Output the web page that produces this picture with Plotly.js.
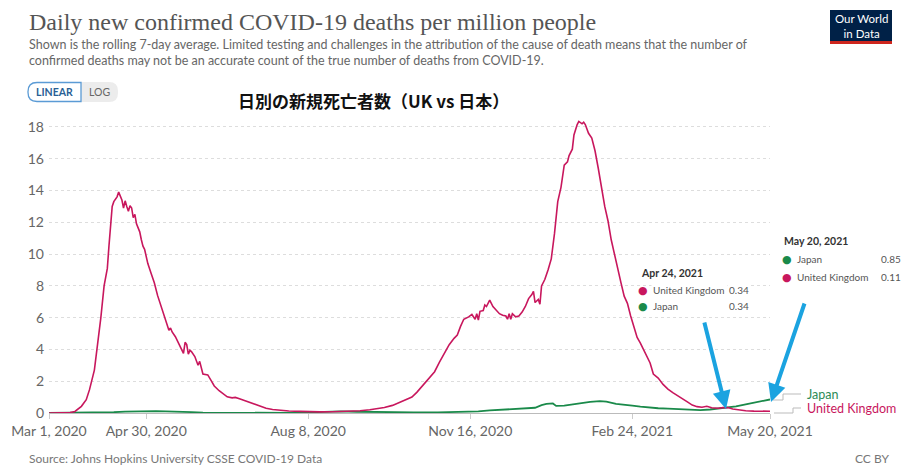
<!DOCTYPE html>
<html><head><meta charset="utf-8">
<script src="https://cdn.plot.ly/plotly-3.0.1.min.js"></script>
<style>html,body{margin:0;padding:0;background:#fff}#chart{width:910px;height:467px}</style>
</head><body><div id="chart"></div>
<script>
// ---- data (7-day rolling average, deaths per million) ----
const ukDates = ["2020-03-01","2020-03-11","2020-03-14","2020-03-17","2020-03-19","2020-03-21","2020-03-24","2020-03-26","2020-03-29","2020-03-31","2020-04-02","2020-04-04","2020-04-05","2020-04-06","2020-04-07","2020-04-08","2020-04-09","2020-04-10","2020-04-12","2020-04-13","2020-04-14","2020-04-15","2020-04-16","2020-04-17","2020-04-18","2020-04-19","2020-04-20","2020-04-21","2020-04-22","2020-04-23","2020-04-24","2020-04-25","2020-04-26","2020-04-27","2020-04-28","2020-04-29","2020-05-01","2020-05-03","2020-05-05","2020-05-07","2020-05-09","2020-05-11","2020-05-13","2020-05-14","2020-05-15","2020-05-16","2020-05-18","2020-05-20","2020-05-22","2020-05-23","2020-05-24","2020-05-25","2020-05-26","2020-05-27","2020-05-28","2020-05-30","2020-06-01","2020-06-02","2020-06-04","2020-06-07","2020-06-09","2020-06-11","2020-06-14","2020-06-17","2020-06-19","2020-06-22","2020-06-24","2020-06-27","2020-07-01","2020-07-05","2020-07-09","2020-07-13","2020-07-17","2020-07-22","2020-07-27","2020-08-03","2020-08-08","2020-08-15","2020-08-23","2020-09-01","2020-09-09","2020-09-15","2020-09-20","2020-09-24","2020-09-29","2020-10-03","2020-10-07","2020-10-11","2020-10-14","2020-10-17","2020-10-19","2020-10-22","2020-10-25","2020-10-28","2020-10-31","2020-11-03","2020-11-06","2020-11-08","2020-11-10","2020-11-12","2020-11-15","2020-11-17","2020-11-19","2020-11-20","2020-11-21","2020-11-22","2020-11-24","2020-11-25","2020-11-26","2020-11-28","2020-11-30","2020-12-02","2020-12-04","2020-12-06","2020-12-08","2020-12-09","2020-12-10","2020-12-11","2020-12-12","2020-12-14","2020-12-16","2020-12-18","2020-12-20","2020-12-22","2020-12-24","2020-12-25","2020-12-26","2020-12-28","2020-12-29","2020-12-30","2021-01-01","2021-01-03","2021-01-05","2021-01-07","2021-01-09","2021-01-11","2021-01-13","2021-01-15","2021-01-16","2021-01-18","2021-01-19","2021-01-21","2021-01-22","2021-01-24","2021-01-25","2021-01-26","2021-01-28","2021-01-30","2021-02-01","2021-02-03","2021-02-05","2021-02-07","2021-02-09","2021-02-11","2021-02-13","2021-02-15","2021-02-17","2021-02-19","2021-02-21","2021-02-23","2021-02-25","2021-02-27","2021-03-01","2021-03-03","2021-03-05","2021-03-07","2021-03-09","2021-03-12","2021-03-15","2021-03-18","2021-03-21","2021-03-24","2021-03-27","2021-03-30","2021-04-02","2021-04-05","2021-04-08","2021-04-11","2021-04-14","2021-04-18","2021-04-21","2021-04-24","2021-04-27","2021-05-01","2021-05-05","2021-05-10","2021-05-15","2021-05-20"];
const ukValues = [0,0,0.03,0.1,0.25,0.42,0.84,1.47,2.7,4.2,6.0,8.0,8.7,9.1,10.5,12.0,13.0,13.3,13.6,13.9,13.6,13.4,12.9,13.35,13.0,12.7,13.05,12.9,12.3,12.5,11.9,11.7,11.4,10.9,10.5,10.3,9.4,8.8,8.2,7.4,6.8,6.2,5.6,5.2,5.35,5.1,4.8,4.4,4.0,3.75,4.45,4.3,3.7,3.95,3.85,3.55,3.0,3.25,2.45,2.4,2.05,1.7,1.4,1.15,1.02,0.95,0.98,0.88,0.73,0.55,0.4,0.3,0.22,0.17,0.13,0.1,0.08,0.07,0.08,0.1,0.14,0.2,0.28,0.35,0.48,0.65,0.78,1.0,1.3,1.65,1.9,2.3,2.6,3.2,3.75,4.3,4.7,4.9,5.45,5.9,6.05,6.2,5.9,6.25,5.85,6.4,6.45,6.8,6.7,7.1,6.7,6.5,6.25,6.15,6.1,5.9,6.25,5.9,6.25,6.05,6.1,6.35,6.7,7.2,7.45,7.65,6.95,7.15,6.85,8.0,8.4,9.0,9.7,11.3,13.3,14.2,15.6,15.8,16.2,16.6,17.5,18.15,18.35,18.2,18.3,18.15,17.6,17.3,16.5,15.4,14.2,13.0,12.1,10.9,10.0,9.0,8.2,7.35,6.9,6.1,5.45,4.75,4.4,4.0,3.6,3.15,2.45,2.2,1.8,1.5,1.28,1.1,0.9,0.7,0.5,0.4,0.36,0.42,0.33,0.3,0.34,0.34,0.25,0.18,0.14,0.12,0.12,0.11];

const jpDates = ["2020-03-01","2020-03-21","2020-04-01","2020-04-10","2020-04-17","2020-04-25","2020-05-03","2020-05-06","2020-05-12","2020-05-20","2020-05-28","2020-06-04","2020-06-19","2020-07-09","2020-07-29","2020-08-08","2020-08-18","2020-08-28","2020-09-07","2020-09-17","2020-09-27","2020-10-12","2020-10-27","2020-11-11","2020-11-21","2020-11-28","2020-12-06","2020-12-16","2020-12-26","2020-12-30","2021-01-02","2021-01-06","2021-01-08","2021-01-13","2021-01-18","2021-01-24","2021-01-29","2021-02-04","2021-02-08","2021-02-14","2021-02-19","2021-02-24","2021-03-01","2021-03-06","2021-03-12","2021-03-18","2021-03-26","2021-04-01","2021-04-07","2021-04-13","2021-04-19","2021-04-24","2021-04-29","2021-05-05","2021-05-10","2021-05-15","2021-05-18","2021-05-20"];
const jpValues = [0,0.01,0.02,0.05,0.09,0.12,0.14,0.12,0.1,0.09,0.06,0.02,0.01,0,0.01,0.04,0.08,0.1,0.08,0.06,0.05,0.04,0.04,0.05,0.1,0.16,0.22,0.28,0.33,0.5,0.57,0.6,0.45,0.47,0.55,0.65,0.7,0.75,0.72,0.58,0.5,0.46,0.4,0.34,0.3,0.27,0.23,0.2,0.18,0.22,0.28,0.34,0.42,0.55,0.65,0.74,0.8,0.85];

const xTickVals = ["2020-03-01","2020-04-30","2020-08-08","2020-11-16","2021-02-24","2021-05-20"];
const xTickText = ["Mar 1, 2020","Apr 30, 2020","Aug 8, 2020","Nov 16, 2020","Feb 24, 2021","May 20, 2021"];
const yTickVals = [0,2,4,6,8,10,12,14,16,18];

const ukColor = "#C8175D", jpColor = "#1A8A4A";

// ---- geometry helpers (pixel -> paper) ----
const W=910,H=467,ML=49,MR=140,MT=119,MB=54;
const PW=W-ML-MR, PH=H-MT-MB;
const px = x => (x-ML)/PW;
const py = y => (H-MB-y)/PH;

function txt(x,y,text,opts){
  return Object.assign({xref:'paper',yref:'paper',x:px(x),y:py(y),text:text,showarrow:false,
    xanchor:'left',yanchor:'middle',font:{family:'Lato',size:13,color:'#666'}},opts||{});
}

const tipFont = {family:'Lato',size:10,color:'#555'};
const annotations = [
  txt(27,22,"Daily new confirmed COVID-19 deaths per million people",{font:{family:'Liberation Serif',size:24,color:'#555'}}),
  txt(27,45,"Shown is the rolling 7-day average. Limited testing and challenges in the attribution of the cause of death means that the number of",{font:{family:'Lato',size:12.5,color:'#666'}}),
  txt(27,60,"confirmed deaths may not be an accurate count of the true number of deaths from COVID-19.",{font:{family:'Lato',size:12.5,color:'#666'}}),
  txt(54,92,"<b>LINEAR</b>",{xanchor:'center',font:{family:'Lato',size:10.5,color:'#2a5f95'}}),
  txt(99,92,"LOG",{xanchor:'center',font:{family:'Lato',size:10.5,color:'#666'}}),
  txt(236,101,"<b>日別の新規死亡者数（UK vs 日本）</b>",{font:{family:'Noto Sans CJK JP',size:17,color:'#111'}}),
  txt(861,26,"Our World<br>in Data",{xanchor:'center',font:{family:'Lato',size:11.5,color:'#fff'}}),
  // end labels
  txt(805,394,"Japan",{font:{family:'Lato',size:12.5,color:'#2E8B57'}}),
  txt(805,408,"United Kingdom",{font:{family:'Lato',size:12.5,color:ukColor}}),
  // tooltip Apr 24
  txt(639,273,"<b>Apr 24, 2021</b>",{font:{family:'Lato',size:10.5,color:'#333'}}),
  txt(643,290,"●",{xanchor:'center',font:{family:'DejaVu Sans',size:11,color:ukColor}}),
  txt(651,290,"United Kingdom",{font:tipFont,bgcolor:'#fff'}),
  txt(751,290,"0.34",{xanchor:'right',font:tipFont,bgcolor:'#fff'}),
  txt(643,306,"●",{xanchor:'center',font:{family:'DejaVu Sans',size:11,color:jpColor}}),
  txt(651,306,"Japan",{font:tipFont}),
  txt(751,306,"0.34",{xanchor:'right',font:tipFont}),
  // tooltip May 20
  txt(782,241,"<b>May 20, 2021</b>",{font:{family:'Lato',size:10.5,color:'#333'}}),
  txt(787,259,"●",{xanchor:'center',font:{family:'DejaVu Sans',size:11,color:jpColor}}),
  txt(795,259,"Japan",{font:tipFont}),
  txt(903,259,"0.85",{xanchor:'right',font:tipFont}),
  txt(787,277,"●",{xanchor:'center',font:{family:'DejaVu Sans',size:11,color:ukColor}}),
  txt(795,277,"United Kingdom",{font:tipFont}),
  txt(903,277,"0.11",{xanchor:'right',font:tipFont}),
  // footer
  txt(27,458,"Source: Johns Hopkins University CSSE COVID-19 Data",{font:{family:'Lato',size:12,color:'#777'}}),
  txt(891,458,"CC BY",{xanchor:'right',font:{family:'Lato',size:12,color:'#777'}}),
  // blue arrows
  {xref:'paper',yref:'paper',x:px(726),y:py(409),ax:-22,ay:-88,axref:'pixel',ayref:'pixel',text:'',showarrow:true,
   arrowcolor:'#1BA3E0',arrowwidth:4,arrowhead:2,arrowsize:0.9},
  {xref:'paper',yref:'paper',x:px(771),y:py(402),ax:34,ay:-100,axref:'pixel',ayref:'pixel',text:'',showarrow:true,
   arrowcolor:'#1BA3E0',arrowwidth:4,arrowhead:2,arrowsize:0.9}
];

function rr(x0,y0,x1,y1,r,left,right){
  const X=v=>px(v), Y=v=>py(v);
  let p='';
  p+=`M${X(x0+(left?r:0))},${Y(y0)} L${X(x1-(right?r:0))},${Y(y0)} `;
  if(right) p+=`Q${X(x1)},${Y(y0)} ${X(x1)},${Y(y0+r)} L${X(x1)},${Y(y1-r)} Q${X(x1)},${Y(y1)} ${X(x1-r)},${Y(y1)} `;
  else p+=`L${X(x1)},${Y(y1)} `;
  p+=`L${X(x0+(left?r:0))},${Y(y1)} `;
  if(left) p+=`Q${X(x0)},${Y(y1)} ${X(x0)},${Y(y1-r)} L${X(x0)},${Y(y0+r)} Q${X(x0)},${Y(y0)} ${X(x0+r)},${Y(y0)} `;
  else p+=`L${X(x0)},${Y(y0)} `;
  return p+'Z';
}

const shapes = [
  {type:'path',xref:'paper',yref:'paper',path:rr(70,82,118,102,9,false,true),fillcolor:'#ececec',line:{width:0}},
  {type:'path',xref:'paper',yref:'paper',path:rr(28,82.5,81,101.5,9,true,false),fillcolor:'#fff',line:{color:'#5b9bd5',width:1.3}},
  {type:'rect',xref:'paper',yref:'paper',x0:px(830),x1:px(892),y0:py(10),y1:py(44),fillcolor:'#002147',line:{width:0}},
  {type:'rect',xref:'paper',yref:'paper',x0:px(830),x1:px(892),y0:py(41),y1:py(44),fillcolor:'#CE261E',line:{width:0}},
  {type:'path',xref:'paper',yref:'paper',path:`M${px(773)},${py(400)} L${px(783)},${py(400)} L${px(783)},${py(394)} L${px(801)},${py(394)}`,line:{color:'#bbb',width:1}},
  {type:'path',xref:'paper',yref:'paper',path:`M${px(774)},${py(413)} L${px(793)},${py(413)} L${px(793)},${py(408)} L${px(801)},${py(408)}`,line:{color:'#bbb',width:1}}
];

const traces = [
  {x:jpDates,y:jpValues,type:'scatter',mode:'lines',name:'Japan',line:{color:jpColor,width:1.8},hoverinfo:'skip'},
  {x:ukDates,y:ukValues,type:'scatter',mode:'lines',name:'United Kingdom',line:{color:ukColor,width:1.6},hoverinfo:'skip'}
];

const layout = {
  width:W,height:H,margin:{l:ML,r:MR,t:MT,b:MB},
  paper_bgcolor:'#fff',plot_bgcolor:'#fff',showlegend:false,
  font:{family:'Lato',color:'#666'},
  xaxis:{type:'date',range:['2020-03-01','2021-05-20'],tickvals:xTickVals,ticktext:xTickText,
    showgrid:false,zeroline:false,showline:true,linecolor:'#bbb',linewidth:1,
    ticks:'outside',ticklen:5,tickcolor:'#ccc',tickfont:{family:'Lato',size:14,color:'#666'}},
  yaxis:{range:[0,18.5],tickvals:yTickVals,showgrid:true,gridcolor:'#ddd',griddash:'dot',gridwidth:1,
    zeroline:false,showline:false,ticks:'',tickfont:{family:'Lato',size:14,color:'#666'},ticklabelstandoff:4},
  annotations:annotations,shapes:shapes
};

Plotly.newPlot('chart',traces,layout,{displayModeBar:false,staticPlot:true});
</script></body></html>
